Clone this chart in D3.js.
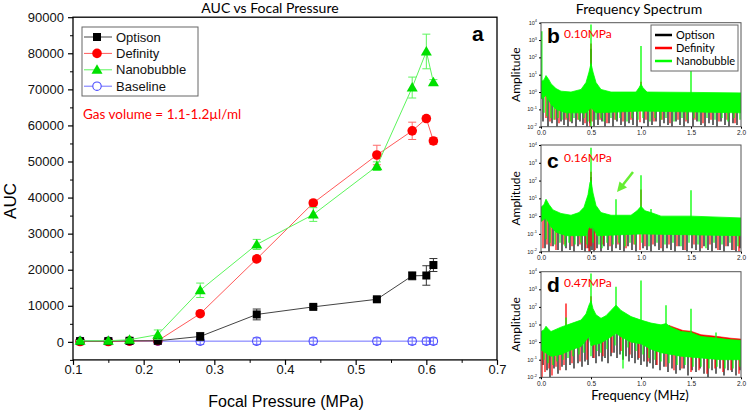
<!DOCTYPE html>
<html><head><meta charset="utf-8">
<script src="https://cdn.jsdelivr.net/npm/d3@7"></script>
<style>body{margin:0;background:#fff}svg{display:block}</style>
</head><body><svg id="c" width="750" height="414"></svg>
<script>
// ---------- Panel a data ----------
const pressure = [0.11,0.15,0.18,0.22,0.28,0.36,0.44,0.53,0.58,0.60,0.61];
const optison = [200,200,300,300,1500,7600,9700,11800,18300,18400,21300];
const optisonErr = [100,100,100,200,1100,1500,500,500,1100,2700,1800];
const definity = [100,100,200,300,7800,23000,38500,51800,58500,61900,55700];
const definityErr = [100,100,100,200,500,700,700,2700,2400,700,900];
const nanobubble = [300,300,600,2000,14300,27000,35300,48700,70500,80500,72000];
const nanobubbleErr = [100,100,200,1300,2000,1400,1900,1200,2900,4800,700];
const baseline = [200,200,200,200,200,200,200,200,200,200,200];
const baselineErr = [900,900,900,900,900,900,900,900,900,900,900];
const seriesNames = ["Optison","Definity","Nanobubble","Baseline"];
const yTicks = [0,10000,20000,30000,40000,50000,60000,70000,80000,90000];
const xTicks = [0.1,0.2,0.3,0.4,0.5,0.6,0.7];

// ---------- Spectrum data (log10 amplitude vs MHz) ----------
const specNames = ["Optison","Definity","Nanobubble"];
const freqTicks = [0,0.5,1.0,1.5,2.0];
const ampExpTicks = [-2,-1,0,1,2,3,4];
// panel b: 0.10MPa
const greenTopB = [[0,0.6],[0.03,0.7],[0.05,0.95],[0.08,0.7],[0.1,0.48],[0.15,0.2],[0.2,0.05],[0.3,0],[0.4,0.15],[0.45,0.55],[0.48,1.15],[0.5,1.65],[0.52,1.15],[0.55,0.55],[0.6,0.15],[0.7,0],[0.95,0],[0.98,0.25],[1.0,0.45],[1.02,0.25],[1.06,0],[1.5,-0.02],[2.0,-0.05]];
const greenBottomB = [[0,-0.4],[0.05,-0.2],[0.1,-0.7],[0.15,-1.0],[0.25,-1.2],[0.45,-1.2],[0.5,-0.9],[0.55,-1.2],[1.0,-1.1],[2.0,-1.2]];
const blackDipsB = [[0.02,-1.7],[0.07,-2],[0.11,-1.8],[0.16,-2],[0.2,-1.7],[0.23,-1.9],[0.27,-2],[0.31,-1.8],[0.35,-2],[0.39,-1.7],[0.42,-1.9],[0.46,-2],[0.49,-1.8],[0.53,-2],[0.57,-1.9],[0.61,-1.7],[0.64,-2],[0.68,-1.8],[0.72,-2],[0.76,-1.7],[0.8,-1.9],[0.84,-2],[0.88,-1.8],[0.92,-1.9],[0.96,-2],[1.03,-1.8],[1.07,-2],[1.11,-1.9],[1.15,-1.7],[1.19,-2],[1.23,-1.8],[1.27,-1.9],[1.31,-2],[1.35,-1.7],[1.39,-1.9],[1.43,-2],[1.47,-1.8],[1.52,-2],[1.56,-1.7],[1.6,-1.9],[1.64,-2],[1.68,-1.8],[1.72,-1.9],[1.76,-2],[1.8,-1.7],[1.84,-1.9],[1.88,-2],[1.92,-1.8],[1.96,-1.9]];
const redDipsB = [[0.05,-1.5],[0.09,-1.7],[0.14,-1.6],[0.18,-1.8],[0.25,-1.6],[0.29,-1.7],[0.37,-1.6],[0.44,-1.8],[0.49,-2],[0.51,-1.7],[0.59,-1.6],[0.66,-1.8],[0.74,-1.6],[0.82,-1.7],[0.9,-1.6],[0.99,-1.75],[1.05,-1.6],[1.13,-1.7],[1.21,-1.6],[1.29,-1.8],[1.37,-1.6],[1.45,-1.7],[1.54,-1.6],[1.62,-1.8],[1.7,-1.6],[1.78,-1.7],[1.86,-1.6],[1.94,-1.8]];
const greenDipsB = [[0.03,-1.2],[0.06,-1.4],[0.1,-1.5],[0.13,-1.6],[0.17,-1.5],[0.21,-1.6],[0.26,-1.5],[0.3,-1.7],[0.33,-1.5],[0.38,-1.6],[0.43,-1.5],[0.47,-1.7],[0.5,-2],[0.55,-1.6],[0.6,-1.5],[0.63,-1.7],[0.7,-1.5],[0.75,-1.6],[0.79,-1.5],[0.86,-1.7],[0.91,-1.5],[0.97,-1.6],[1.02,-1.5],[1.09,-1.7],[1.14,-1.5],[1.2,-1.6],[1.25,-1.5],[1.33,-1.7],[1.41,-1.5],[1.46,-1.6],[1.53,-1.5],[1.58,-1.7],[1.66,-1.5],[1.74,-1.6],[1.81,-1.5],[1.87,-1.7],[1.93,-1.5],[1.99,-1.6]];
const blackSpikesB = [[0.5,2.5]];
const redSpikesB = [[0.5,2.8],[1.0,0.6]];
const greenSpikesB = [[0.008,3.5],[0.5,3.9],[1.0,2.65],[1.5,1.45]];
// panel c: 0.16MPa
const greenTopC = [[0,0.5],[0.03,0.65],[0.05,0.95],[0.08,0.65],[0.12,0.35],[0.2,0.15],[0.3,0.05],[0.38,0.2],[0.43,0.5],[0.47,1.2],[0.49,1.9],[0.5,2.0],[0.52,1.3],[0.55,0.6],[0.6,0.2],[0.7,0.05],[0.9,0.05],[0.96,0.3],[1.0,0.55],[1.04,0.3],[1.1,0.2],[1.2,0],[1.5,0],[2.0,-0.1]];
const greenBottomC = [[0,-0.3],[0.05,-0.1],[0.1,-0.6],[0.15,-0.9],[0.25,-1.1],[0.45,-1.1],[0.48,-0.6],[0.5,-0.7],[0.52,-0.6],[0.56,-1.1],[1.0,-1.0],[2.0,-1.1]];
const blackDipsC = [[0.04,-1.8],[0.08,-2],[0.12,-1.7],[0.17,-1.9],[0.21,-2],[0.25,-1.8],[0.29,-1.9],[0.33,-2],[0.37,-1.7],[0.41,-1.9],[0.44,-2],[0.47,-1.8],[0.49,-2],[0.51,-1.9],[0.53,-2],[0.56,-1.8],[0.6,-2],[0.63,-1.7],[0.67,-1.9],[0.71,-2],[0.75,-1.8],[0.79,-1.9],[0.83,-2],[0.87,-1.7],[0.91,-1.9],[0.95,-2],[1.02,-1.8],[1.06,-1.9],[1.1,-2],[1.14,-1.7],[1.18,-1.9],[1.22,-2],[1.26,-1.8],[1.3,-1.9],[1.34,-2],[1.38,-1.7],[1.42,-1.9],[1.46,-2],[1.51,-1.8],[1.55,-1.9],[1.59,-2],[1.63,-1.7],[1.67,-1.9],[1.71,-2],[1.75,-1.8],[1.79,-1.9],[1.83,-2],[1.87,-1.7],[1.91,-1.9],[1.95,-2],[1.99,-1.8]];
const redDipsC = [[0.02,-1.8],[0.06,-1.6],[0.1,-1.7],[0.15,-1.9],[0.23,-1.6],[0.31,-1.7],[0.39,-1.6],[0.45,-1.8],[0.48,-2],[0.5,-1.7],[0.54,-1.9],[0.62,-1.6],[0.69,-1.7],[0.77,-1.6],[0.85,-1.8],[0.93,-1.6],[0.99,-1.9],[1.04,-1.7],[1.12,-1.6],[1.2,-1.8],[1.28,-1.6],[1.36,-1.7],[1.44,-1.9],[1.53,-1.6],[1.61,-1.8],[1.69,-1.6],[1.77,-1.9],[1.85,-1.7],[1.93,-1.9],[1.98,-2]];
const greenDipsC = [[0.05,-1.3],[0.09,-1.5],[0.14,-1.6],[0.19,-1.5],[0.24,-1.7],[0.28,-1.5],[0.34,-1.6],[0.4,-1.5],[0.46,-1.6],[0.52,-1.5],[0.58,-1.6],[0.61,-1.8],[0.66,-1.5],[0.72,-1.6],[0.78,-1.5],[0.84,-1.7],[0.89,-1.5],[0.94,-1.6],[1.01,-1.5],[1.08,-1.7],[1.16,-1.5],[1.24,-1.6],[1.32,-1.5],[1.4,-1.7],[1.48,-1.5],[1.57,-1.6],[1.65,-1.8],[1.73,-1.5],[1.81,-1.6],[1.89,-1.5],[1.97,-1.7]];
const blackSpikesC = [[0.5,2.2]];
const redSpikesC = [[0.5,2.5],[1.0,1.5]];
const greenSpikesC = [[0.5,3.85],[0.75,0.95],[1.0,2.3],[1.1,0.4],[1.5,1.45]];
// panel d: 0.47MPa
const greenTopD = [[0,0.6],[0.03,0.7],[0.05,0.9],[0.08,0.7],[0.1,0.6],[0.2,0.85],[0.3,1.05],[0.4,1.25],[0.45,1.6],[0.48,2.1],[0.5,2.35],[0.52,1.9],[0.55,1.55],[0.6,1.35],[0.65,1.5],[0.7,1.8],[0.75,2.1],[0.8,1.8],[0.9,1.45],[1.0,1.25],[1.1,1.08],[1.2,0.98],[1.25,1.05],[1.3,0.85],[1.4,0.6],[1.5,0.55],[1.6,0.32],[1.75,0.23],[1.9,0.13],[2.0,0.1]];
const redTopD = [[1.28,0.95],[1.35,0.8],[1.42,0.66],[1.5,0.62],[1.6,0.42],[1.75,0.33],[1.9,0.22],[2.0,0.17]];
const greenBottomD = [[0,-0.45],[0.1,-0.8],[0.2,-0.7],[0.3,-0.45],[0.4,-0.25],[0.48,0.3],[0.5,-0.2],[0.6,-0.05],[0.7,0.3],[0.75,0.5],[0.8,0.3],[0.9,0],[1.0,-0.1],[1.1,-0.4],[1.2,-0.6],[1.4,-0.8],[1.6,-0.9],[1.8,-1.0],[2.0,-1.0]];
const blackDipsD = [[0.02,-1.3],[0.06,-1.6],[0.09,-2],[0.13,-1.5],[0.17,-1.8],[0.21,-1.4],[0.25,-1.6],[0.29,-1.3],[0.33,-1.5],[0.37,-1.2],[0.41,-1.4],[0.44,-1.1],[0.47,-1.3],[0.52,-0.9],[0.55,-1.2],[0.58,-0.8],[0.61,-1.1],[0.64,-0.9],[0.67,-1.2],[0.7,-0.8],[0.73,-0.6],[0.76,-0.9],[0.79,-0.7],[0.82,-1.0],[0.85,-0.8],[0.88,-1.1],[0.91,-0.9],[0.94,-1.2],[0.97,-1.0],[1.0,-1.3],[1.03,-1.1],[1.06,-1.4],[1.09,-1.2],[1.12,-1.5],[1.15,-1.3],[1.19,-1.6],[1.23,-1.4],[1.27,-1.7],[1.31,-1.5],[1.35,-1.8],[1.39,-1.6],[1.43,-1.5],[1.47,-1.9],[1.51,-1.6],[1.55,-1.7],[1.59,-1.5],[1.63,-1.8],[1.67,-2],[1.71,-1.6],[1.75,-1.8],[1.79,-1.5],[1.83,-1.9],[1.87,-1.6],[1.91,-1.7],[1.95,-1.9],[1.99,-1.6]];
const redDipsD = [[0.01,-2],[0.04,-1.7],[0.08,-1.5],[0.11,-1.9],[0.15,-1.4],[0.19,-1.6],[0.23,-1.3],[0.31,-1.2],[0.39,-1.1],[0.46,-1.0],[0.53,-0.9],[0.62,-0.8],[0.71,-0.6],[0.8,-0.5],[0.89,-0.7],[0.98,-0.9],[1.07,-1.1],[1.16,-1.3],[1.25,-1.4],[1.33,-1.6],[1.41,-1.5],[1.5,-1.7],[1.58,-1.6],[1.66,-1.8],[1.74,-1.5],[1.82,-1.7],[1.9,-1.6],[1.98,-1.8]];
const greenDipsD = [[0.03,-1.0],[0.07,-1.2],[0.12,-1.3],[0.16,-1.1],[0.22,-1.0],[0.27,-0.9],[0.32,-0.8],[0.38,-0.7],[0.43,-0.6],[0.5,-0.8],[0.56,-0.5],[0.6,-0.6],[0.66,-0.4],[0.74,-0.2],[0.82,-1.5],[0.87,-0.3],[0.95,-0.5],[1.02,-0.7],[1.08,-0.9],[1.14,-1.0],[1.2,-1.1],[1.28,-1.2],[1.36,-1.3],[1.44,-1.3],[1.52,-1.4],[1.6,-1.4],[1.68,-1.5],[1.76,-1.4],[1.84,-1.5],[1.92,-1.5],[1.99,-1.4]];
const blackSpikesD = [[0.75,0.8]];
const redSpikesD = [[0.25,2.2],[0.5,2.6]];
const greenSpikesD = [[0.25,1.4],[0.5,3.9],[0.75,3.15],[1.0,3.5],[1.25,2.1],[1.5,1.9],[1.75,0.55]];

// ---------- drawing ----------
const svg = d3.select("#c");
const ARIAL = "'Liberation Sans', Arial, sans-serif";
const CAL = "Lato, 'Open Sans', sans-serif";

// ===== Panel a =====
const x = d3.scaleLinear().domain([0.1,0.7]).range([73,497]);
const y = d3.scaleLinear().domain([-5000,90000]).range([359.9,17.2]);

svg.append("text").attr("x",270).attr("y",13).attr("text-anchor","middle")
  .attr("font-family",CAL).attr("font-size",14).text("AUC vs Focal Pressure");

svg.append("rect").attr("x",73).attr("y",17.2).attr("width",424).attr("height",342.7)
  .attr("fill","none").attr("stroke","#000").attr("stroke-width",1.3);

const yAx = svg.append("g").attr("transform","translate(73,0)")
  .call(d3.axisLeft(y).tickValues(yTicks).tickSize(5).tickSizeOuter(0).tickFormat(d3.format("d")));
yAx.select(".domain").remove();
yAx.selectAll("text").attr("font-family",ARIAL).attr("font-size",13).attr("fill","#111").attr("x",-9);
yAx.selectAll("line").attr("stroke-width",1.2);
const yMin = svg.append("g").attr("transform","translate(73,0)")
  .call(d3.axisLeft(y).tickValues(d3.range(-5000,90000,10000)).tickSize(3).tickFormat(""));
yMin.select(".domain").remove();

const xAx = svg.append("g").attr("transform","translate(0,359.9)")
  .call(d3.axisBottom(x).tickValues(xTicks).tickSize(5).tickSizeOuter(0).tickFormat(d3.format(".1f")));
xAx.select(".domain").remove();
xAx.selectAll("text").attr("font-family",ARIAL).attr("font-size",13).attr("fill","#111").attr("y",5);
xAx.selectAll("line").attr("stroke-width",1.2);
const xMin = svg.append("g").attr("transform","translate(0,359.9)")
  .call(d3.axisBottom(x).tickValues([0.15,0.25,0.35,0.45,0.55,0.65]).tickSize(3).tickFormat(""));
xMin.select(".domain").remove();

svg.append("text").attr("transform","translate(16,201) rotate(-90)").attr("text-anchor","middle")
  .attr("font-family",ARIAL).attr("font-size",17).text("AUC");
svg.append("text").attr("x",286).attr("y",407).attr("text-anchor","middle")
  .attr("font-family",ARIAL).attr("font-size",16).text("Focal Pressure (MPa)");

const seriesA = [
  {name:"Baseline", v:baseline, e:baselineErr, line:"#6f6fff", ecol:"#6f6fff", shape:"ocircle", fill:"none", stroke:"#4a4aff"},
  {name:"Definity", v:definity, e:definityErr, line:"#ff5a5a", ecol:"#ff6b6b", shape:"circle", fill:"#ff0000", stroke:"#ff0000"},
  {name:"Optison", v:optison, e:optisonErr, line:"#444", ecol:"#333", shape:"square", fill:"#000", stroke:"#000"},
  {name:"Nanobubble", v:nanobubble, e:nanobubbleErr, line:"#5cf55c", ecol:"#5cf55c", shape:"triangle", fill:"#00e000", stroke:"#00e000"}
];
function marker(g, shape, fill, stroke){
  if(shape==="square") g.append("rect").attr("x",-4).attr("y",-4).attr("width",8).attr("height",8).attr("fill",fill);
  else if(shape==="circle") g.append("circle").attr("r",4.8).attr("fill",fill);
  else if(shape==="ocircle") g.append("circle").attr("r",4.2).attr("fill","none").attr("stroke",stroke).attr("stroke-width",1.1);
  else if(shape==="triangle") g.append("path").attr("d","M0,-5.5L5.5,4L-5.5,4Z").attr("fill",fill);
}
const lineGen = d3.line().x(d=>x(d[0])).y(d=>y(d[1]));
seriesA.forEach(s=>{
  const pts = pressure.map((p,i)=>[p,s.v[i],s.e[i]]);
  svg.append("path").attr("d",lineGen(pts)).attr("fill","none").attr("stroke",s.line).attr("stroke-width",1);
  const eg = svg.append("g").attr("stroke",s.ecol).attr("stroke-width",1);
  pts.forEach(d=>{
    const cx=x(d[0]), y1=y(d[1]+d[2]), y2=y(d[1]-d[2]);
    eg.append("line").attr("x1",cx).attr("x2",cx).attr("y1",y1).attr("y2",y2);
    eg.append("line").attr("x1",cx-4).attr("x2",cx+4).attr("y1",y1).attr("y2",y1);
    eg.append("line").attr("x1",cx-4).attr("x2",cx+4).attr("y1",y2).attr("y2",y2);
  });
  pts.forEach(d=>{
    const g = svg.append("g").attr("transform",`translate(${x(d[0])},${y(d[1])})`);
    marker(g,s.shape,s.fill,s.stroke);
  });
});

// legend a
svg.append("rect").attr("x",82).attr("y",27).attr("width",116).attr("height",69)
  .attr("fill","#fff").attr("stroke","#666").attr("stroke-width",1);
seriesNames.forEach((n,i)=>{
  const s = seriesA.find(t=>t.name===n);
  const ly = 37+i*16.4;
  svg.append("line").attr("x1",84).attr("x2",112).attr("y1",ly).attr("y2",ly).attr("stroke",s.line).attr("stroke-width",1);
  const g = svg.append("g").attr("transform",`translate(97,${ly})`);
  if(s.shape==="ocircle") g.append("circle").attr("r",4.2).attr("fill","#fff");
  marker(g,s.shape,s.fill,s.stroke);
  svg.append("text").attr("x",116).attr("y",ly+4.5).attr("font-family",ARIAL).attr("font-size",13).attr("fill","#111").text(n);
});
svg.append("text").attr("x",83).attr("y",119).attr("font-family",CAL).attr("font-size",13.5).attr("fill","#ff0000").text("Gas volume = 1.1-1.2µl/ml");
svg.append("text").attr("x",472).attr("y",41).attr("font-family",ARIAL).attr("font-weight","bold").attr("font-size",21).text("a");

// ===== Spectrum panels =====
svg.append("text").attr("x",639).attr("y",14).attr("text-anchor","middle")
  .attr("font-family",CAL).attr("font-size",14).text("Frequency Spectrum");

const xF = d3.scaleLinear().domain([0,2]).range([541,741]);
const panels = [
  {letter:"b", p:"0.10MPa", top:22.7, bot:126.7, letterY:43, pY:38,
   gTop:greenTopB, gBot:greenBottomB, rTop:null,
   kDip:blackDipsB, rDip:redDipsB, gDip:greenDipsB, kSp:blackSpikesB, rSp:redSpikesB, gSp:greenSpikesB},
  {letter:"c", p:"0.16MPa", top:145, bot:251.7, letterY:167.5, pY:162,
   gTop:greenTopC, gBot:greenBottomC, rTop:null,
   kDip:blackDipsC, rDip:redDipsC, gDip:greenDipsC, kSp:blackSpikesC, rSp:redSpikesC, gSp:greenSpikesC},
  {letter:"d", p:"0.47MPa", top:271.7, bot:377.3, letterY:292, pY:287,
   gTop:greenTopD, gBot:greenBottomD, rTop:redTopD,
   kDip:blackDipsD, rDip:redDipsD, gDip:greenDipsD, kSp:blackSpikesD, rSp:redSpikesD, gSp:greenSpikesD}
];
function interp(arr, f){
  if(f<=arr[0][0]) return arr[0][1];
  for(let i=0;i<arr.length-1;i++){
    if(f>=arr[i][0] && f<=arr[i+1][0]){
      const t=(f-arr[i][0])/(arr[i+1][0]-arr[i][0]);
      return arr[i][1]+t*(arr[i+1][1]-arr[i][1]);
    }
  }
  return arr[arr.length-1][1];
}
panels.forEach((P,pi)=>{
  const yA = d3.scaleLog().domain([1e-2,1e4]).range([P.bot,P.top]);
  const Y = v => yA(Math.pow(10,v));
  const g = svg.append("g");
  const clipId = "clip"+pi;
  g.append("clipPath").attr("id",clipId).append("rect").attr("x",541).attr("y",P.top).attr("width",200).attr("height",P.bot-P.top);
  const plot = g.append("g").attr("clip-path",`url(#${clipId})`);
  const pl = d3.line().x(d=>xF(d[0])).y(d=>Y(d[1]));
  function dips(arr, col, w){
    arr.forEach(d=>{
      plot.append("line").attr("x1",xF(d[0])).attr("x2",xF(d[0]))
        .attr("y1",Y(interp(P.gBot,d[0])+0.1)).attr("y2",Y(d[1]))
        .attr("stroke",col).attr("stroke-width",w);
    });
  }
  function spikes(arr, col){
    arr.forEach(d=>{
      plot.append("line").attr("x1",xF(d[0])).attr("x2",xF(d[0]))
        .attr("y1",Y(interp(P.gTop,d[0])-0.3)).attr("y2",Y(d[1]))
        .attr("stroke",col).attr("stroke-width",1.3);
    });
  }
  dips(P.kDip,"#000",1.2); spikes(P.kSp,"#000");
  dips(P.rDip,"#ff0000",1.2); spikes(P.rSp,"#ff0000");
  if(P.rTop){
    const base = P.rTop.map(d=>[d[0], interp(P.gTop,d[0])-0.3]);
    plot.append("path").attr("d",pl(P.rTop.concat(base.reverse()))+"Z").attr("fill","#ff0000").attr("stroke","#ff0000").attr("stroke-width",0.6);
  }
  const poly = P.gTop.concat(P.gBot.slice().reverse());
  plot.append("path").attr("d",pl(poly)+"Z").attr("fill","#00ff00").attr("stroke","#00ff00").attr("stroke-width",0.8);
  dips(P.gDip,"#00ff00",1.2); spikes(P.gSp,"#00ff00");

  g.append("rect").attr("x",541).attr("y",P.top).attr("width",200).attr("height",P.bot-P.top)
    .attr("fill","none").attr("stroke","#555").attr("stroke-width",1);
  const ya = g.append("g").attr("transform","translate(541,0)")
    .call(d3.axisLeft(yA).tickValues(ampExpTicks.map(e=>Math.pow(10,e))).tickSize(2).tickFormat(""));
  ya.select(".domain").remove();
  ampExpTicks.forEach(e=>{
    const t = g.append("text").attr("x",537).attr("y",Y(e)+2).attr("text-anchor","end")
      .attr("font-family",ARIAL).attr("font-size",5.5).attr("fill","#222");
    t.append("tspan").text("10");
    t.append("tspan").attr("dy",-2.5).attr("font-size",4).text(String(e));
  });
  const xa = g.append("g").attr("transform",`translate(0,${P.bot})`)
    .call(d3.axisBottom(xF).tickValues(freqTicks).tickSize(2).tickFormat(d3.format(".1f")));
  xa.select(".domain").remove();
  xa.selectAll("text").attr("font-family",ARIAL).attr("font-size",6.5).attr("fill","#222").attr("y",4);
  g.append("text").attr("transform",`translate(520,${(P.top+P.bot)/2}) rotate(-90)`).attr("text-anchor","middle")
    .attr("font-family",CAL).attr("font-size",12).text("Amplitude");
  g.append("text").attr("x",547).attr("y",P.letterY).attr("font-family",ARIAL).attr("font-weight","bold").attr("font-size",21).text(P.letter);
  g.append("text").attr("x",564).attr("y",P.pY).attr("font-family",CAL).attr("font-size",12).attr("fill","#ff0000").text(P.p);
});

// legend b
svg.append("rect").attr("x",651).attr("y",25).attr("width",87).attr("height",46)
  .attr("fill","#fff").attr("stroke","#666").attr("stroke-width",1);
const specCols = ["#000","#ff0000","#00ff00"];
specNames.forEach((n,i)=>{
  const ly = 35+i*13;
  svg.append("line").attr("x1",655).attr("x2",672).attr("y1",ly).attr("y2",ly).attr("stroke",specCols[i]).attr("stroke-width",2.5);
  svg.append("text").attr("x",676).attr("y",ly+4).attr("font-family",CAL).attr("font-size",11).text(n);
});

// arrow in c
svg.append("line").attr("x1",633).attr("y1",172).attr("x2",622).attr("y2",186).attr("stroke","#66ee33").attr("stroke-width",2.5);
svg.append("path").attr("d","M617,192L619.5,181.5L627,187.5Z").attr("fill","#66ee33");

svg.append("text").attr("x",640).attr("y",400).attr("text-anchor","middle")
  .attr("font-family",CAL).attr("font-size",13).text("Frequency (MHz)");
</script></body></html>
